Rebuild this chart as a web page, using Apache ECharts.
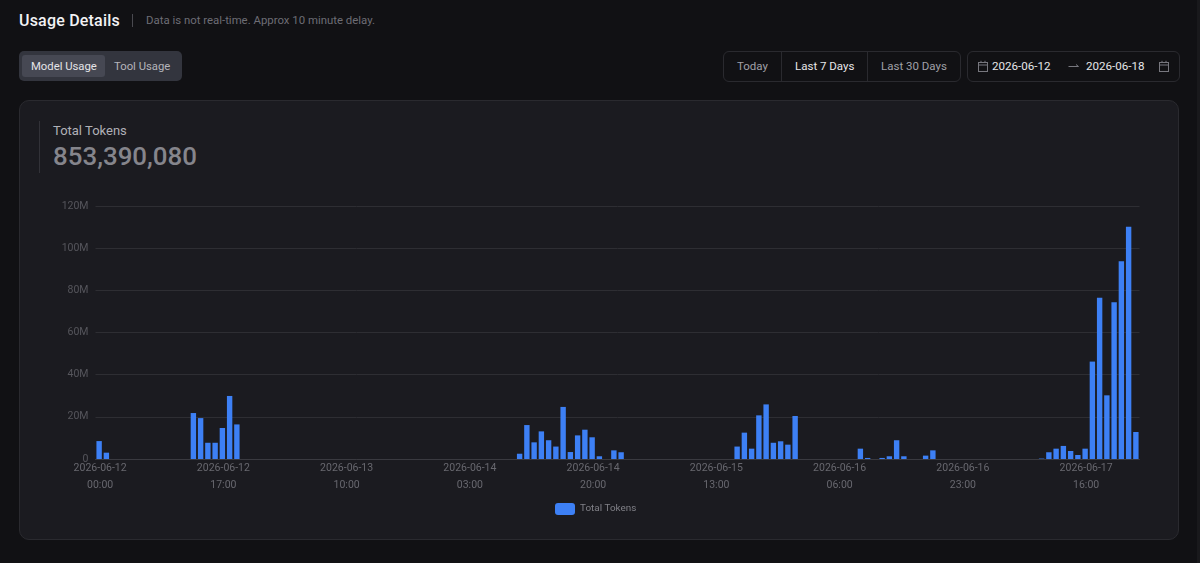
<!DOCTYPE html>
<html lang="en">
<head>
<meta charset="utf-8">
<title>Usage Details</title>
<script src="https://cdn.jsdelivr.net/npm/echarts@6/dist/echarts.min.js"></script>
<style>
  html, body { margin: 0; padding: 0; width: 1200px; height: 563px; overflow: hidden; background: #111114; font-family: Roboto, sans-serif; }
  .abs { position: absolute; white-space: nowrap; }
  #scrollbar { left: 1197px; top: 0; width: 3px; height: 563px; background: #19191c; }
  #title { left: 19px; top: 10px; font-size: 16px; line-height: 21px; font-weight: 500; color: #f2f2f4; letter-spacing: .2px; }
  #titleRule { left: 132px; top: 14px; width: 1px; height: 13px; background: #4a4a50; }
  #note { left: 146px; top: 12px; font-size: 11.4px; line-height: 17px; color: #6d6d74; }
  #tabs { left: 19px; top: 51px; width: 163px; height: 30px; background: #33353e; border-radius: 5px; }
  #tabActive { left: 22px; top: 55px; width: 83px; height: 22px; background: #464853; border-radius: 3px; }
  .tab { top: 58px; font-size: 11.3px; line-height: 18px; }
  #range { left: 723px; top: 51px; width: 236px; height: 29px; border: 1px solid #2a2a2f; border-radius: 6px; }
  .div { top: 52px; width: 1px; height: 29px; background: #2a2a2f; }
  .rangeText { top: 57px; font-size: 11.5px; line-height: 18px; }
  #dates { left: 967px; top: 51px; width: 211px; height: 29px; border: 1px solid #2a2a2f; border-radius: 6px; }
  .date { top: 57px; font-size: 11.6px; line-height: 18px; color: #e6e6e9; }
  #card { left: 19px; top: 100px; width: 1160px; height: 440px; box-sizing: border-box; background: #1b1b20; border: 1px solid #2a2a2f; border-radius: 10px; }
  #kpiRule { left: 39px; top: 121px; width: 1px; height: 52px; background: #323238; }
  #kpiLabel { left: 53px; top: 122px; font-size: 13px; line-height: 18px; color: #b0b0b6; }
  #kpiValue { left: 53px; top: 140px; font-size: 25.9px; line-height: 32px; font-weight: 500; color: #85858c; }
  #chart { left: 0; top: 0; width: 1200px; height: 563px; }
</style>
</head>
<body>
<div class="abs" id="scrollbar"></div>
<div class="abs" id="title">Usage Details</div>
<div class="abs" id="titleRule"></div>
<div class="abs" id="note">Data is not real-time. Approx 10 minute delay.</div>

<div class="abs" id="tabs"></div>
<div class="abs" id="tabActive"></div>
<div class="abs tab" style="left:31px;color:#e4e4e8">Model Usage</div>
<div class="abs tab" style="left:114px;color:#b4b4ba">Tool Usage</div>

<div class="abs" id="range"></div>
<div class="abs div" style="left:781px"></div>
<div class="abs div" style="left:867px"></div>
<div class="abs rangeText" style="left:737px;color:#a0a0a7">Today</div>
<div class="abs rangeText" style="left:795px;color:#e6e6e9">Last 7 Days</div>
<div class="abs rangeText" style="left:881px;color:#a0a0a7">Last 30 Days</div>

<div class="abs" id="dates"></div>
<svg class="abs" style="left:977px;top:60px" width="12" height="12" viewBox="0 0 12 12" fill="none" stroke="#77777e" stroke-width="1"><rect x="1.5" y="2.5" width="9" height="9"/><path d="M1.5 5H10.5M4 .8V3M8 .8V3"/></svg>
<div class="abs date" style="left:992px">2026-06-12</div>
<svg class="abs" style="left:1068px;top:62px" width="12" height="8" viewBox="0 0 12 8" fill="none" stroke="#77777e" stroke-width="1"><path d="M.5 4.5H10.5L8 2.5"/></svg>
<div class="abs date" style="left:1086px">2026-06-18</div>
<svg class="abs" style="left:1158px;top:60px" width="12" height="12" viewBox="0 0 12 12" fill="none" stroke="#77777e" stroke-width="1"><rect x="1.5" y="2.5" width="9" height="9"/><path d="M1.5 5H10.5M4 .8V3M8 .8V3"/></svg>

<div class="abs" id="card"></div>
<div class="abs" id="kpiRule"></div>
<div class="abs" id="kpiLabel">Total Tokens</div>
<div class="abs" id="kpiValue">853,390,080</div>
<div class="abs" id="chart"></div>

<script>
// Hourly buckets, 2026-06-12 00:00 through 2026-06-17 23:00
const days = ['2026-06-12', '2026-06-13', '2026-06-14', '2026-06-15', '2026-06-16', '2026-06-17'];
const hours = ['00','01','02','03','04','05','06','07','08','09','10','11','12','13','14','15','16','17','18','19','20','21','22','23'];
const categories = days.flatMap(d => hours.map(h => `${d}\n${h}:00`));

// Tokens per hour, in millions; one row per day
const tokensDay12 = [8.5,3,0,0,0,0,0,0,0,0,0,0,0,21.8,19.4,7.7,7.7,14.7,29.9,16.4,0,0,0,0];
const tokensDay13 = [0,0,0,0,0,0,0,0,0,0,0,0,0,0,0,0,0,0,0,0,0,0,0,0];
const tokensDay14 = [0,0,0,0,0,0,0,0,0,0,2.5,16.1,7.9,13.1,8.9,5.9,24.7,3.3,11.2,13.9,10.3,1.3,0,4.1];
const tokensDay15 = [3.2,0,0,0,0,0,0,0,0,0,0,0,0,0,0,0,5.9,12.5,4.9,20.7,25.9,7.7,8.4,6.8];
const tokensDay16 = [20.4,0,0,0,0,0,0,0,0,4.9,0.5,0,0.5,1.3,8.9,1.3,0,0,1.6,4.1,0,0,0,0];
const tokensDay17 = [0,0,0,0,0,0,0,0,0,0,0.2,3.2,4.9,6.2,3.8,1.9,4.9,46.2,76.5,30.2,74.3,93.8,110.2,12.8];
const totalTokens = [...tokensDay12, ...tokensDay13, ...tokensDay14, ...tokensDay15, ...tokensDay16, ...tokensDay17];

const chart = echarts.init(document.getElementById('chart'), null, { renderer: 'canvas' });
chart.setOption({
  backgroundColor: 'transparent',
  animation: false,
  textStyle: { fontFamily: 'Roboto, sans-serif' },
  grid: { left: 95.5, right: 60.5, top: 206, bottom: 104, containLabel: false },
  legend: {
    data: ['Total Tokens'],
    left: 550,
    top: 498,
    itemWidth: 20,
    itemHeight: 12,
    itemGap: 3.5,
    icon: 'roundRect',
    textStyle: { color: '#808087', fontSize: 9.9, padding: [-1, 0, 0, 0] }
  },
  xAxis: {
    type: 'category',
    data: categories,
    boundaryGap: true,
    axisLine: { lineStyle: { color: '#3a3a40', width: 1 } },
    axisTick: { show: false },
    axisLabel: { color: '#68686f', fontSize: 10.5, interval: 16, lineHeight: 17, margin: 1, padding: [0, 0, 0, 2] }
  },
  yAxis: {
    type: 'value',
    min: 0,
    max: 120,
    interval: 20,
    axisLine: { show: false },
    axisTick: { show: false },
    splitLine: { lineStyle: { color: '#2e2e33', width: 1 } },
    axisLabel: { color: '#56565c', fontSize: 10.5, margin: 7, padding: [0, 0, 2, 0], formatter: v => (v === 0 ? '0' : `${v}M`) }
  },
  series: [{
    name: 'Total Tokens',
    type: 'bar',
    data: totalTokens,
    barWidth: 5.4,
    itemStyle: { color: '#3d80f5' },
    legendHoverLink: false
  }]
});
</script>
</body>
</html>
